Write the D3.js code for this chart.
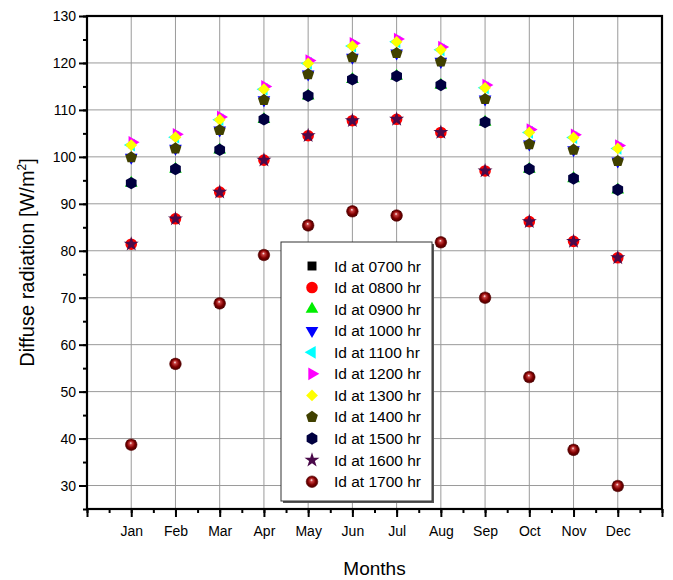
<!DOCTYPE html>
<html>
<head>
<meta charset="utf-8">
<script src="https://cdn.jsdelivr.net/npm/d3@7"></script>
<style>
  body { margin: 0; background: #fff; }
  text { font-family: Arial, "Liberation Sans", sans-serif; }
</style>
</head>
<body>
<script>
var svgWidth = 673;
var svgHeight = 580;

var months = ["Jan", "Feb", "Mar", "Apr", "May", "Jun", "Jul", "Aug", "Sep", "Oct", "Nov", "Dec"];
var seriesNames = ["Id at 0700 hr", "Id at 0800 hr", "Id at 0900 hr", "Id at 1000 hr", "Id at 1100 hr", "Id at 1200 hr",
  "Id at 1300 hr", "Id at 1400 hr", "Id at 1500 hr", "Id at 1600 hr", "Id at 1700 hr"];

// readings per month (Jan..Dec)
var id0700 = [38.7, 55.9, 68.8, 79.1, 85.4, 88.4, 87.5, 81.8, 70.0, 53.1, 37.6, 29.9];
var id0800 = [81.4, 86.8, 92.5, 99.3, 104.5, 107.7, 108.0, 105.2, 97.0, 86.2, 82.0, 78.5];
var id0900 = [94.4, 97.4, 101.5, 108.0, 113.0, 116.5, 117.2, 115.3, 107.4, 97.4, 95.4, 93.0];
var id1000 = [99.9, 101.8, 105.7, 112.1, 117.6, 121.2, 122.1, 120.3, 112.3, 102.7, 101.5, 99.1];
var id1100 = [102.5, 104.2, 107.9, 114.4, 119.9, 123.6, 124.5, 122.8, 114.7, 105.2, 104.1, 101.8];
var id1200 = [103.1, 104.8, 108.5, 115.0, 120.5, 124.2, 125.1, 123.4, 115.3, 105.8, 104.7, 102.4];
var id1300 = [102.5, 104.2, 107.9, 114.4, 119.9, 123.6, 124.5, 122.8, 114.7, 105.2, 104.1, 101.8];
var id1400 = [99.9, 101.8, 105.7, 112.1, 117.6, 121.2, 122.1, 120.3, 112.3, 102.7, 101.5, 99.1];
var id1500 = [94.4, 97.4, 101.5, 108.0, 113.0, 116.5, 117.2, 115.3, 107.4, 97.4, 95.4, 93.0];
var id1600 = [81.4, 86.8, 92.5, 99.3, 104.5, 107.7, 108.0, 105.2, 97.0, 86.2, 82.0, 78.5];
var id1700 = [38.7, 55.9, 68.8, 79.1, 85.4, 88.4, 87.5, 81.8, 70.0, 53.1, 37.6, 29.9];

var yTicks = [30, 40, 50, 60, 70, 80, 90, 100, 110, 120, 130];

var allValues = [id0700, id0800, id0900, id1000, id1100, id1200, id1300, id1400, id1500, id1600, id1700];

var Margin = { top: 16, right: 11, bottom: 71, left: 87 };
var Width = svgWidth - Margin.left - Margin.right;
var Height = svgHeight - Margin.top - Margin.bottom;

var svg = d3.select("body").append("svg")
  .attr("width", svgWidth)
  .attr("height", svgHeight);

var defs = svg.append("defs");
var grad = defs.append("radialGradient")
  .attr("id", "ball")
  .attr("cx", "50%").attr("cy", "50%").attr("r", "55%")
  .attr("fx", "45%").attr("fy", "35%");
grad.append("stop").attr("offset", "0%").attr("stop-color", "#ffffff");
grad.append("stop").attr("offset", "22%").attr("stop-color", "#c84040");
grad.append("stop").attr("offset", "60%").attr("stop-color", "#800000");
grad.append("stop").attr("offset", "100%").attr("stop-color", "#3a0000");

var chartGroup = svg.append("g")
  .attr("transform", `translate(${Margin.left}, ${Margin.top})`);

var xScale = d3.scaleLinear().domain([0, 13]).range([0, Width]);
var yScale = d3.scaleLinear().domain([25, 130]).range([Height, 0]);

// grid
chartGroup.append("g")
  .selectAll("line")
  .data(d3.range(1, 13))
  .enter().append("line")
  .attr("x1", d => xScale(d)).attr("x2", d => xScale(d))
  .attr("y1", 0).attr("y2", Height)
  .attr("stroke", "#9a9a9a").attr("stroke-width", 1);

chartGroup.append("g")
  .selectAll("line")
  .data(yTicks.filter(d => d < 130))
  .enter().append("line")
  .attr("x1", 0).attr("x2", Width)
  .attr("y1", d => yScale(d)).attr("y2", d => yScale(d))
  .attr("stroke", "#9a9a9a").attr("stroke-width", 1);

// axes
var leftAxis = d3.axisLeft(yScale).tickValues(yTicks).tickSize(8).tickPadding(3);
var leftMinor = d3.axisLeft(yScale).tickValues(d3.range(25, 131, 5)).tickSize(4).tickFormat("");
var bottomAxis = d3.axisBottom(xScale).tickValues(d3.range(1, 13)).tickSize(8).tickPadding(9)
  .tickFormat(d => months[d - 1]);
var bottomMinor = d3.axisBottom(xScale).tickValues(d3.range(0, 13.1, 0.5)).tickSize(4).tickFormat("");
var bottomMajor0 = d3.axisBottom(xScale).tickValues([0, 13]).tickSize(8).tickFormat("");

function styleAxis(g) {
  g.select(".domain").remove();
  g.selectAll(".tick line").attr("stroke", "#000").attr("stroke-width", 2);
  g.selectAll("text").attr("font-size", 14).attr("fill", "#000");
}

chartGroup.append("g").call(leftMinor).call(styleAxis);
chartGroup.append("g").call(leftAxis).call(styleAxis);
chartGroup.append("g").attr("transform", `translate(0, ${Height})`).call(bottomMinor).call(styleAxis);
chartGroup.append("g").attr("transform", `translate(0, ${Height})`).call(bottomMajor0).call(styleAxis);
chartGroup.append("g").attr("transform", `translate(0, ${Height})`).call(bottomAxis).call(styleAxis);

chartGroup.append("rect")
  .attr("x", 0).attr("y", 0)
  .attr("width", Width).attr("height", Height)
  .attr("fill", "none").attr("stroke", "#000").attr("stroke-width", 2.2);

// markers
function polyPath(n, r, rot) {
  var pts = d3.range(n).map(function(i) {
    var a = rot + i * 2 * Math.PI / n;
    return [r * Math.sin(a), -r * Math.cos(a)];
  });
  return "M" + pts.join("L") + "Z";
}
var sq = d3.symbol().type(d3.symbolSquare).size(80)();
var tri = d3.symbol().type(d3.symbolTriangle).size(70)();
var markers = [
  { path: sq, fill: "#000000", rot: 0 },
  { path: d3.symbol().type(d3.symbolCircle).size(105)(), fill: "#ff0000", rot: 0 },
  { path: tri, fill: "#00ee00", rot: 0 },
  { path: tri, fill: "#0000ff", rot: 180 },
  { path: tri, fill: "#00ffff", rot: -90 },
  { path: tri, fill: "#ff00ff", rot: 90 },
  { path: d3.symbol().type(d3.symbolSquare).size(70)(), fill: "#ffff00", rot: 45 },
  { path: polyPath(5, 6.2, 0), fill: "#404000", rot: 0 },
  { path: polyPath(6, 6.2, 0), fill: "#000040", rot: 0 },
  { path: d3.symbol().type(d3.symbolStar).size(70)(), fill: "#4a0a4a", rot: 0 },
  { path: null, fill: "url(#ball)", rot: 0 }
];

function drawMarker(sel, i) {
  var m = markers[i];
  if (m.path === null) {
    sel.append("circle").attr("r", 5.8).attr("fill", m.fill)
      .attr("stroke", "#5a0000").attr("stroke-width", 0.6);
  } else {
    sel.append("path").attr("d", m.path).attr("fill", m.fill)
      .attr("transform", `rotate(${m.rot})`);
  }
}

allValues.forEach(function(vals, i) {
  var g = chartGroup.append("g");
  vals.forEach(function(v, j) {
    var p = g.append("g")
      .attr("transform", `translate(${xScale(j + 1) + (i === 5 ? 1 : 0)}, ${yScale(v)})`);
    drawMarker(p, i);
  });
});

// legend
var lx = 281, ly = 242, lw = 151, lh = 259;
svg.append("rect").attr("x", lx + 2).attr("y", ly + 2).attr("width", lw).attr("height", lh)
  .attr("fill", "#555");
svg.append("rect").attr("x", lx).attr("y", ly).attr("width", lw).attr("height", lh)
  .attr("fill", "#fff").attr("stroke", "#333").attr("stroke-width", 1);

seriesNames.forEach(function(name, i) {
  var yy = 266 + i * 21.57;
  var g = svg.append("g").attr("transform", `translate(312, ${yy})`);
  drawMarker(g, i);
  svg.append("text").attr("x", 334).attr("y", yy + 5.5)
    .attr("font-size", 15.5).attr("fill", "#000").text(name);
});

// titles
svg.append("text")
  .attr("x", Margin.left + Width / 2)
  .attr("y", 575)
  .attr("text-anchor", "middle")
  .attr("font-size", 19)
  .text("Months");

var yt = svg.append("text")
  .attr("transform", `translate(34, ${Margin.top + Height / 2}) rotate(-90)`)
  .attr("text-anchor", "middle")
  .attr("font-size", 20);
yt.append("tspan").text("Diffuse radiation [W/m");
yt.append("tspan").attr("font-size", 12).attr("dy", -8).text("2");
yt.append("tspan").attr("dy", 8).text("]");
</script>
</body>
</html>
